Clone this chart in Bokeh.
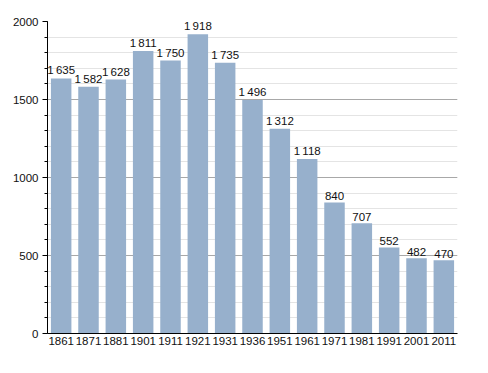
from bokeh.plotting import figure
from bokeh.models import ColumnDataSource, FactorRange, Range1d, FixedTicker
from bokeh.core.properties import value
from bokeh.embed import file_html
from bokeh.resources import INLINE

years = ["1861", "1871", "1881", "1901", "1911", "1921", "1931", "1936",
         "1951", "1961", "1971", "1981", "1991", "2001", "2011"]
population = [1635, 1582, 1628, 1811, 1750, 1918, 1735, 1496,
              1312, 1118, 840, 707, 552, 482, 470]

labels = [f"{v:,}".replace(",", "\u2009") for v in population]
src = ColumnDataSource(dict(x=years, y=population, lab=labels))

p = figure(width=472, height=357, x_range=FactorRange(*years, range_padding=0),
           y_range=Range1d(0, 2000), output_backend="svg", toolbar_location=None,
           min_border_left=47, min_border_right=15, min_border_top=21, min_border_bottom=24)
p.outline_line_color = None
p.background_fill_color = "white"

p.vbar(x="x", top="y", width=0.75, source=src, fill_color="#97B0CC", line_color=None)
p.text(x="x", y="y", text="lab", source=src, text_align="center", text_baseline="bottom",
       y_offset=-2, text_font=value("Liberation Sans"), text_font_size="11.5px", text_color="#111111")

p.yaxis.ticker = FixedTicker(ticks=[0, 500, 1000, 1500, 2000],
                             minor_ticks=list(range(0, 2001, 100)))
p.ygrid.ticker = p.yaxis.ticker
p.ygrid.grid_line_color = "#a8a8a8"
p.ygrid.minor_grid_line_color = "#e4e4e4"
p.xgrid.grid_line_color = None

for ax in (p.xaxis, p.yaxis):
    ax.axis_line_color = "black"
    ax.major_label_text_font = "Liberation Sans"
    ax.major_label_text_font_size = "11.5px"
    ax.major_label_text_color = "#111111"
p.yaxis.major_tick_line_color = "black"
p.yaxis.major_tick_in = 0
p.yaxis.major_tick_out = 5
p.yaxis.minor_tick_line_color = "black"
p.yaxis.minor_tick_in = 0
p.yaxis.minor_tick_out = 3
p.xaxis.major_tick_line_color = None
p.xaxis.minor_tick_line_color = None
p.xaxis.major_tick_in = 0
p.xaxis.major_tick_out = 0
p.xaxis.major_label_standoff = 3
p.yaxis.major_label_standoff = 4

open("out.html", "w").write(file_html(p, INLINE))
